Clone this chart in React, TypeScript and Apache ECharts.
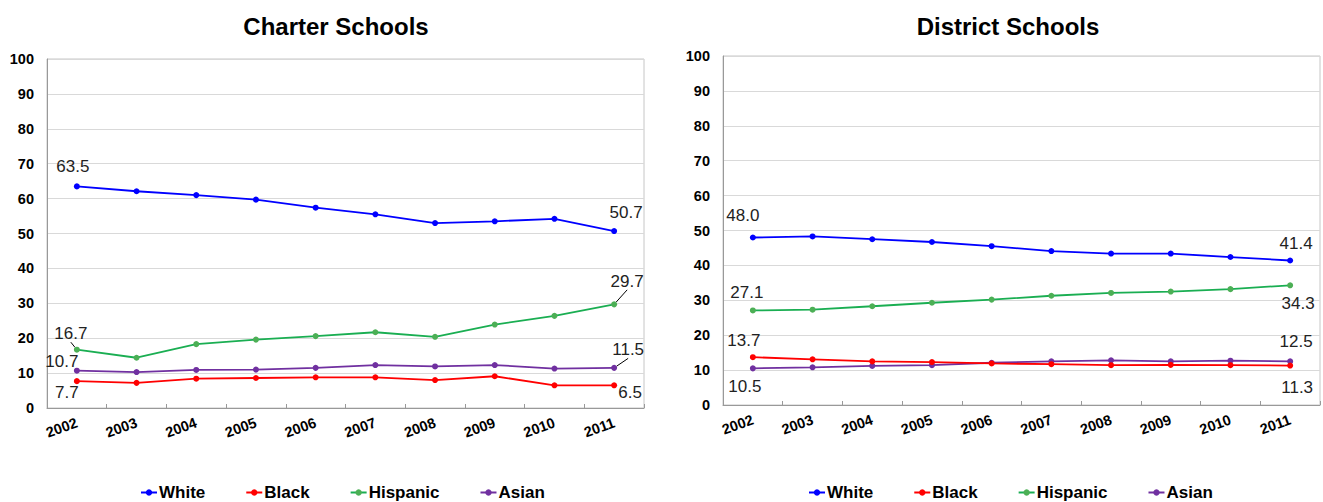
import React, { useEffect, useRef } from "react";
import * as echarts from "echarts";

const years = ["2002", "2003", "2004", "2005", "2006", "2007", "2008", "2009", "2010", "2011"];
const groupNames = ["White", "Black", "Hispanic", "Asian"];
const chartTitles = ["Charter Schools", "District Schools"];

const charterWhite = [63.5, 62.1, 61.0, 59.7, 57.4, 55.5, 53.0, 53.5, 54.2, 50.7];
const charterBlack = [7.7, 7.2, 8.4, 8.6, 8.8, 8.8, 8.0, 9.1, 6.5, 6.5];
const charterHispanic = [16.7, 14.4, 18.3, 19.6, 20.6, 21.7, 20.4, 23.9, 26.4, 29.7];
const charterAsian = [10.7, 10.3, 10.9, 11.0, 11.5, 12.3, 11.9, 12.3, 11.3, 11.5];

const districtWhite = [48.0, 48.3, 47.5, 46.7, 45.5, 44.1, 43.4, 43.4, 42.4, 41.4];
const districtBlack = [13.7, 13.1, 12.5, 12.3, 11.9, 11.7, 11.4, 11.5, 11.4, 11.3];
const districtHispanic = [27.1, 27.3, 28.3, 29.3, 30.2, 31.3, 32.1, 32.5, 33.2, 34.3];
const districtAsian = [10.5, 10.8, 11.2, 11.4, 12.1, 12.5, 12.8, 12.5, 12.7, 12.5];

const yTicks = [0, 10, 20, 30, 40, 50, 60, 70, 80, 90, 100];

// styling / layout (not data)
const FONT = "'Liberation Sans', Arial, sans-serif";
const colors = ["#0000ff", "#ff0000", "#1aae52", "#7030a0"];
const symbolColors = ["#0000ff", "#ff0000", "#4caf55", "#7030a0"];
// [dx, dy, leaderLine] for first (2002) and last (2011) labels
const labelOffsets: any = [
  [
    [[-4, -20, false], [12, -19, false]],
    [[-10, 11, false], [16, 7, false]],
    [[-6, -16, true], [13, -23, true]],
    [[-15, -9, false], [14, -18, true]],
  ],
  [
    [[-10, -22, false], [6, -17, false]],
    [[-9, -17, false], [7, 22, false]],
    [[-6, -18, false], [8, 18, false]],
    [[-8, 18, false], [6, -20, false]],
  ],
];
const grids = [
  { left: 47, top: 59, width: 597, height: 349 },
  { left: 723, top: 56, width: 597, height: 349 },
];
const titleCenters = [331, 1003];
const legendLefts = [135, 803];

export default function App() {
  const ref = useRef<HTMLDivElement>(null);
  useEffect(() => {
    if (!ref.current) return;
    const chart = echarts.init(ref.current, undefined, { renderer: "svg" });
    const datasets = [
      [charterWhite, charterBlack, charterHispanic, charterAsian],
      [districtWhite, districtBlack, districtHispanic, districtAsian],
    ];
    const series: any[] = [];
    const layoutMap: any = {};
    datasets.forEach((group, gi) => {
      group.forEach((vals, si) => {
        const seriesIndex = series.length;
        const offs = labelOffsets[gi][si];
        layoutMap[seriesIndex] = { 0: offs[0], [vals.length - 1]: offs[1] };
        series.push({
          type: "line",
          name: groupNames[si],
          xAxisIndex: gi,
          yAxisIndex: gi,
          symbol: "circle",
          symbolSize: 6,
          lineStyle: { color: colors[si], width: 1.8 },
          itemStyle: { color: symbolColors[si] },
          color: colors[si],
          z: 10 - si,
          label: {
            show: false,
            position: "inside",
            fontSize: 17,
            fontFamily: FONT,
            color: "#222",
            formatter: (p: any) => Number(p.value).toFixed(1),
          },
          labelLine: { show: false, lineStyle: { color: "#000", width: 1 } },
          labelLayout: (params: any) => {
            const m = layoutMap[params.seriesIndex];
            const o = m && m[params.dataIndex];
            if (!o) return {};
            return { dx: o[0], dy: o[1] };
          },
          data: vals.map((v, i) => {
            const isEnd = i === 0 || i === vals.length - 1;
            if (!isEnd) return v;
            const o = i === 0 ? offs[0] : offs[1];
            return {
              value: v,
              label: { show: true },
              labelLine: { show: !!o[2], lineStyle: { color: "#000", width: 1 } },
            };
          }),
        });
      });
    });

    const axisFont = { fontFamily: FONT, fontWeight: "bold", color: "#000" };

    const option: any = {
      animation: false,
      backgroundColor: "#fff",
      title: chartTitles.map((t, i) => ({
        text: t,
        left: titleCenters[i],
        top: 9,
        textAlign: "center",
        textStyle: { fontSize: 24, fontWeight: "bold", color: "#000", fontFamily: FONT },
      })),
      legend: [0, 1].map((i) => ({
        data: groupNames,
        left: legendLefts[i],
        top: 479,
        itemWidth: 16,
        itemHeight: 8,
        itemGap: 40,
        textStyle: { fontSize: 17, ...axisFont, padding: [0, 0, 0, -3] },
      })),
      grid: grids.map((g) => ({ ...g, show: true, borderColor: "#c6c6c6", borderWidth: 1, backgroundColor: "#fff" })),
      xAxis: [0, 1].map((i) => ({
        type: "category",
        gridIndex: i,
        data: years,
        boundaryGap: true,
        axisLine: { show: true, lineStyle: { color: "#999", width: 1 } },
        axisTick: { show: true, inside: true, length: 4, lineStyle: { color: "#999" } },
        axisLabel: { rotate: 20, fontSize: 14.5, margin: 14, ...axisFont },
        splitLine: { show: false },
      })),
      yAxis: [0, 1].map((i) => ({
        type: "value",
        gridIndex: i,
        min: yTicks[0],
        max: yTicks[yTicks.length - 1],
        interval: yTicks[1] - yTicks[0],
        axisLine: { show: true, lineStyle: { color: "#999", width: 1 } },
        axisTick: { show: false },
        axisLabel: { fontSize: 14.5, margin: 13, ...axisFont },
        splitLine: { show: true, lineStyle: { color: "#d9d9d9", width: 1 } },
      })),
      series,
    };
    chart.setOption(option);
    return () => chart.dispose();
  }, []);
  return (
    <div
      ref={ref}
      style={{ position: "absolute", left: 0, top: 0, width: 1323, height: 502, background: "#fff" }}
    />
  );
}
